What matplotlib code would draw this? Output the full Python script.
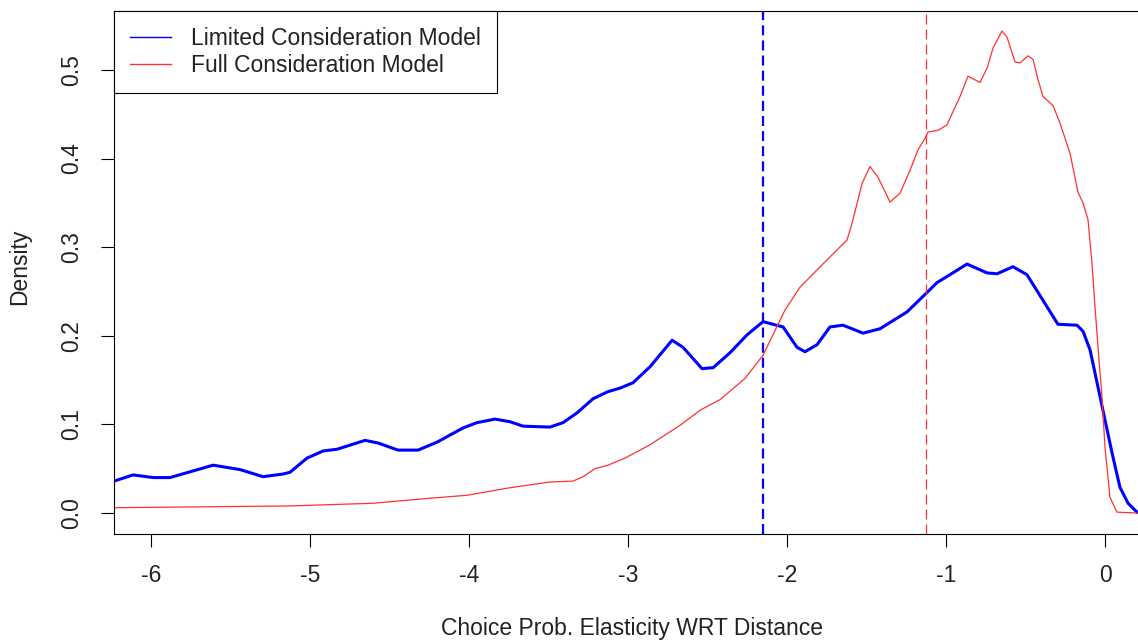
import matplotlib
matplotlib.use("Agg")
import matplotlib.pyplot as plt
import numpy as np

plt.rcParams["font.family"] = ["Liberation Sans", "DejaVu Sans"]

# density of the limited consideration model
limited_x = [-6.233, -6.113, -5.987, -5.881, -5.610, -5.440, -5.296, -5.170, -5.126, -5.019,
             -4.918, -4.830, -4.654, -4.572, -4.447, -4.321, -4.201, -4.038, -3.950, -3.836,
             -3.742, -3.660, -3.491, -3.409, -3.321, -3.220, -3.126, -3.050, -2.969, -2.862,
             -2.723, -2.654, -2.535, -2.465, -2.358, -2.252, -2.151, -2.025, -1.937, -1.887,
             -1.811, -1.730, -1.648, -1.522, -1.415, -1.245, -1.119, -1.057, -0.975, -0.868,
             -0.742, -0.679, -0.579, -0.491, -0.390, -0.296, -0.176, -0.138, -0.094, -0.044,
             0.000, 0.044, 0.094, 0.145, 0.201]
limited_y = [0.036, 0.043, 0.040, 0.040, 0.054, 0.049, 0.041, 0.044, 0.046, 0.062,
             0.070, 0.072, 0.082, 0.079, 0.071, 0.071, 0.080, 0.096, 0.102, 0.106,
             0.103, 0.098, 0.097, 0.102, 0.113, 0.129, 0.137, 0.141, 0.147, 0.165,
             0.195, 0.187, 0.163, 0.164, 0.181, 0.201, 0.216, 0.210, 0.187, 0.182,
             0.190, 0.210, 0.212, 0.203, 0.208, 0.227, 0.249, 0.260, 0.269, 0.281,
             0.271, 0.270, 0.278, 0.269, 0.240, 0.213, 0.212, 0.205, 0.184, 0.142,
             0.105, 0.068, 0.029, 0.011, 0.001]

# density of the full consideration model
full_x = [-6.233, -5.126, -4.604, -4.226, -4.013, -3.761, -3.491, -3.346, -3.283, -3.208,
          -3.126, -3.019, -2.862, -2.673, -2.547, -2.421, -2.264, -2.151, -2.013, -1.918,
          -1.730, -1.623, -1.591, -1.528, -1.478, -1.428, -1.352, -1.289, -1.226, -1.176,
          -1.132, -1.113, -1.050, -0.994, -0.956, -0.912, -0.862, -0.830, -0.786, -0.742,
          -0.704, -0.648, -0.616, -0.566, -0.535, -0.484, -0.453, -0.421, -0.390, -0.327,
          -0.283, -0.220, -0.170, -0.138, -0.107, -0.082, -0.063, -0.044, -0.019, 0.000,
          0.031, 0.075, 0.201]
full_y = [0.006, 0.008, 0.011, 0.017, 0.020, 0.028, 0.035, 0.036, 0.041, 0.050,
          0.054, 0.062, 0.077, 0.099, 0.116, 0.128, 0.152, 0.178, 0.229, 0.255,
          0.289, 0.308, 0.327, 0.372, 0.391, 0.379, 0.351, 0.361, 0.387, 0.410,
          0.423, 0.430, 0.432, 0.438, 0.453, 0.470, 0.493, 0.490, 0.486, 0.502,
          0.525, 0.544, 0.537, 0.509, 0.508, 0.516, 0.512, 0.489, 0.470, 0.460,
          0.440, 0.406, 0.362, 0.350, 0.331, 0.282, 0.233, 0.187, 0.131, 0.074,
          0.018, 0.001, 0.000]

# means of the two distributions
limited_mean = -2.151
full_mean = -1.126

x_ticks = [-6, -5, -4, -3, -2, -1, 0]
y_ticks = [0.0, 0.1, 0.2, 0.3, 0.4, 0.5]

fig = plt.figure(figsize=(11.38, 6.43), dpi=100)
ax = fig.add_axes([0.1002, 0.1695, 0.8998, 0.8134])

blue = "#0000ff"
red = "#ff3030"

ax.plot(limited_x, limited_y, color=blue, linewidth=2.2, solid_joinstyle="round",
        label="Limited Consideration Model")
ax.plot(full_x, full_y, color=red, linewidth=0.9, solid_joinstyle="round",
        label="Full Consideration Model")
ax.axvline(limited_mean, color=blue, linewidth=1.6, linestyle=(0, (4.5, 2.3)))
ax.axvline(full_mean, color=red, linewidth=0.9, linestyle=(0, (8, 4)))

ax.set_xlim(-6.233, 0.2075)
ax.set_ylim(-0.0237, 0.5666)
ax.set_xticks(x_ticks)
ax.set_xticklabels([str(t) for t in x_ticks])
ax.set_yticks(y_ticks)
ax.set_yticklabels([f"{t:.1f}" for t in y_ticks])

ax.spines["right"].set_visible(False)
for s in ["left", "bottom", "top"]:
    ax.spines[s].set_linewidth(0.8)
    ax.spines[s].set_color("black")

ax.tick_params(axis="both", direction="out", length=9.5, width=0.8, labelsize=16.5,
               colors="black", labelcolor="#222222")
ax.tick_params(axis="x", pad=12)
ax.tick_params(axis="y", pad=13, labelrotation=90)
for lbl in ax.get_yticklabels():
    lbl.set_va("center")

ax.set_xlabel("Choice Prob. Elasticity WRT Distance", fontsize=16.5, color="#222222", va="center")
ax.xaxis.set_label_coords(0.506, -0.18)
ax.set_ylabel("Density", fontsize=16.5, color="#222222", va="center")
ax.yaxis.set_label_coords(-0.092, 0.51)

leg = ax.legend(loc="upper left", bbox_to_anchor=(0, 1), borderaxespad=0, fontsize=16.5,
                frameon=True, fancybox=False, edgecolor="black", framealpha=1,
                handlelength=1.8, handletextpad=0.9, borderpad=0.68, labelspacing=0.2,
                labelcolor="#222222")
leg.get_frame().set_linewidth(0.8)
for line in leg.get_lines():
    line.set_linewidth(1.0)

fig.savefig("out.png", dpi=100)
